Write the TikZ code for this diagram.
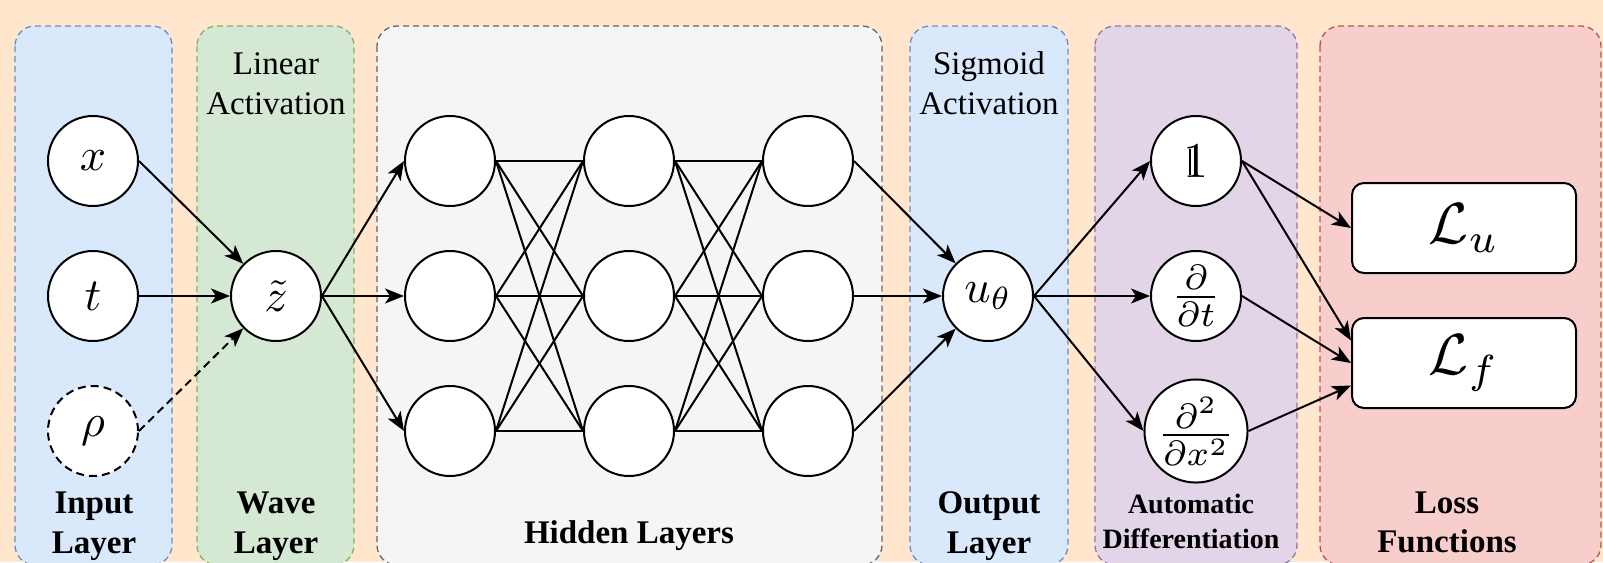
\documentclass[tikz,border=0pt]{standalone}
\usepackage{graphicx}
\usepackage[no-math]{fontspec}
\setmainfont{Liberation Serif}
\usetikzlibrary{arrows.meta}

\definecolor{bgorange}{HTML}{FFE6CC}
\definecolor{blueFill}{HTML}{DAE8FC}\definecolor{blueLine}{HTML}{6C8EBF}
\definecolor{greenFill}{HTML}{D5E8D4}\definecolor{greenLine}{HTML}{82B366}
\definecolor{grayFill}{HTML}{F5F5F5}\definecolor{grayLine}{HTML}{666666}
\definecolor{purpleFill}{HTML}{E1D5E7}\definecolor{purpleLine}{HTML}{9673A6}
\definecolor{redFill}{HTML}{F8CECC}\definecolor{redLine}{HTML}{B85450}

% math set at 10pt and enlarged
\newcommand{\bigmath}[2]{\scalebox{#1}{$#2$}}
% indicator one: a digit one with a doubled stem
\newcommand{\indicatorone}{\makebox[0pt][l]{\hspace{0.105em}\rule[0.035em]{0.04em}{0.53em}}1}

\tikzset{
  panel/.style={line width=1.3pt, dash pattern=on 6pt off 4pt, rounded corners=20pt},
  neuron/.style={circle, draw, fill=white, line width=2pt, minimum size=90pt, inner sep=0pt},
  lossbox/.style={rectangle, draw, fill=white, line width=2pt, rounded corners=12pt,
    minimum width=224pt, minimum height=90pt, inner sep=0pt},
  toplabel/.style={anchor=base, inner sep=0pt, font=\fontsize{33}{40}\selectfont},
  botlabel/.style={anchor=base, inner sep=0pt, font=\fontsize{33}{40}\selectfont\bfseries},
  smalllabel/.style={anchor=base, inner sep=0pt, font=\fontsize{28}{35}\selectfont\bfseries},
  link/.style={line width=2pt},
  arr/.style={link, -{Stealth[length=19pt,width=15pt,inset=5pt]}},
  dasharr/.style={arr, dash pattern=on 8pt off 5pt},
}

\begin{document}
\begin{tikzpicture}[x=1pt, y=-1pt]
  % page and background
  \fill[bgorange] (0,0) rectangle (1603,562);
  \useasboundingbox (0,0) rectangle (1603,562);

  % layer panels
  \draw[panel, draw=blueLine, fill=blueFill] (15,26) rectangle (172,565);
  \draw[panel, draw=greenLine, fill=greenFill] (197,26) rectangle (354,565);
  \draw[panel, draw=grayLine, fill=grayFill] (377,26) rectangle (882,565);
  \draw[panel, draw=blueLine, fill=blueFill] (910,26) rectangle (1068,565);
  \draw[panel, draw=purpleLine, fill=purpleFill] (1095,26) rectangle (1297,565);
  \draw[panel, draw=redLine, fill=redFill] (1320,26) rectangle (1601,565);

  % input layer
  \node[neuron] (x) at (93,161) {\bigmath{4.6}{x}};
  \node[neuron] (t) at (93,296) {\bigmath{4.6}{t}};
  \node[neuron, dash pattern=on 8pt off 5pt] (rho) at (93,431) {\bigmath{4.6}{\rho}};

  % wave layer
  \node[neuron] (z) at (276,296) {\bigmath{4.6}{\tilde{z}}};

  % hidden layers
  \foreach \c/\xx in {1/450, 2/629, 3/808}
    \foreach \r/\yy in {1/161, 2/296, 3/431}
      \node[neuron] (h\c\r) at (\xx,\yy) {};

  % output layer
  \node[neuron] (u) at (988,296) {\bigmath{4.6}{u_\theta}};

  % automatic differentiation
  \node[neuron] (id) at (1196,161) {\bigmath{5.0}{\indicatorone}};
  \node[neuron] (dt) at (1196,296) {\bigmath{5.0}{\frac{\partial}{\partial t}}};
  \node[neuron] (dxx) at (1196,431) {\bigmath{5.0}{\frac{\partial^2}{\partial x^2}}};

  % loss functions
  \node[lossbox] (Lu) at (1464,228) {\bigmath{5.8}{\mathcal{L}_u}};
  \node[lossbox] (Lf) at (1464,363) {\bigmath{5.8}{\mathcal{L}_f}};

  % connections
  \draw[arr] (x.east) -- (z);
  \draw[arr] (t.east) -- (z.west);
  \draw[dasharr] (rho.east) -- (z);
  \foreach \r in {1,2,3} \draw[arr] (z.east) -- (h1\r.west);
  \foreach \i in {1,2,3} \foreach \j in {1,2,3} {
    \draw[link] (h1\i.east) -- (h2\j.west);
    \draw[link] (h2\i.east) -- (h3\j.west);
  }
  \draw[arr] (h31.east) -- (u);
  \draw[arr] (h32.east) -- (u.west);
  \draw[arr] (h33.east) -- (u);
  \draw[arr] (u.east) -- (id.west);
  \draw[arr] (u.east) -- (dt.west);
  \draw[arr] (u.east) -- (dxx.west);
  \draw[arr] (id.east) -- (Lu.west);
  \draw[arr] (id.east) -- ([yshift=22.5pt]Lf.west);
  \draw[arr] (dt.east) -- (Lf.west);
  \draw[arr] (dxx.east) -- ([yshift=-22.5pt]Lf.west);

  % panel captions
  \node[toplabel] (lin1) at (276,74) {Linear};
  \node[toplabel] (lin2) at (276,114) {Activation};
  \node[toplabel] (sig1) at (989,74) {Sigmoid};
  \node[toplabel] (sig2) at (989,114) {Activation};
  \node[botlabel] (in1) at (94,513) {Input};
  \node[botlabel] (in2) at (94,553) {Layer};
  \node[botlabel] (wv1) at (276,513) {Wave};
  \node[botlabel] (wv2) at (276,553) {Layer};
  \node[botlabel] (hid) at (629,543) {Hidden Layers};
  \node[botlabel] (out1) at (989,513) {Output};
  \node[botlabel] (out2) at (989,553) {Layer};
  \node[smalllabel] (ad1) at (1191,513) {Automatic};
  \node[smalllabel] (ad2) at (1191,548) {Differentiation};
  \node[botlabel] (ls1) at (1447,513) {Loss};
  \node[botlabel] (ls2) at (1447,552) {Functions};
\end{tikzpicture}
\end{document}
